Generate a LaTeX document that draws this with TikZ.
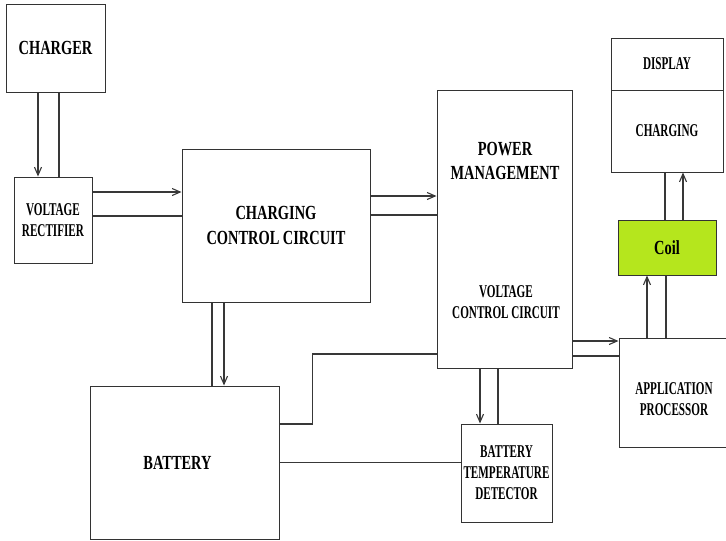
\documentclass[tikz,border=0pt]{standalone}
\usepackage{fontspec}
\newfontfamily\bigfont[FakeStretch=0.72]{Liberation Serif}
\newfontfamily\smallfont[FakeStretch=0.62]{Liberation Serif}
\usetikzlibrary{positioning,arrows.meta}

\begin{document}
\begin{tikzpicture}[
  x=1pt, y=-1pt,
  box/.style={rectangle, draw=black!80, line width=1pt, inner sep=0pt},
  big/.style={align=center, font=\bigfont\bfseries\fontsize{20}{24.5}\selectfont},
  small/.style={align=center, font=\smallfont\bfseries\fontsize{18}{21}\selectfont},
  line/.style={draw=black!78, line width=1.1pt},
  arr/.style={line, -{Straight Barb[length=8pt,width=7pt]}}
]
\useasboundingbox (0,0) rectangle (726,541);

% blocks
\node[box, big, minimum width=99pt, minimum height=88pt]    (chg)  at (55.5,48)    {CHARGER};
\node[box, small, minimum width=78pt, minimum height=86pt]  (rect) at (53,220)     {VOLTAGE\\RECTIFIER};
\node[box, big, minimum width=188pt, minimum height=153pt]  (ccc)  at (276,225.5)  {CHARGING\\CONTROL CIRCUIT};
\node[box, minimum width=135pt, minimum height=278pt]       (pm)   at (504.5,229)  {};
\node[big]   (pmtop) at (505,161) {POWER\\MANAGEMENT};
\node[small] (pmbot) at (506,302) {VOLTAGE\\CONTROL CIRCUIT};
\node[box, small, minimum width=112pt, minimum height=52pt] (disp) at (667,64)     {DISPLAY};
\node[box, small, minimum width=112pt, minimum height=82pt] (dchg) at (667,131)    {CHARGING};
\node[box, big, fill={rgb,255:red,181;green,230;blue,29}, minimum width=98pt, minimum height=55pt] (coil) at (667,247.5) {Coil};
\node[box, minimum width=107pt, minimum height=109pt]       (ap)   at (672.5,392.5) {};
\node[small] (aptxt) at (674,399) {APPLICATION\\PROCESSOR};
\node[box, minimum width=189pt, minimum height=153pt]       (bat)  at (184.5,462.5) {};
\node[big]   (battxt) at (177.5,463) {BATTERY};
\node[box, small, minimum width=91pt, minimum height=98pt]  (btd)  at (506.5,473)  {BATTERY\\TEMPERATURE\\DETECTOR};

% connectors
\draw[arr]  ([xshift=-17.5pt]chg.south) -- ([xshift=-17.5pt]chg.south |- rect.north);
\draw[line] ([xshift=3.5pt]chg.south)   -- ([xshift=3.5pt]chg.south |- rect.north);

\draw[arr]  ([yshift=28pt]rect.east) -- ([yshift=28pt]rect.east -| ccc.west);
\draw[line] ([yshift=4pt]rect.east)  -- ([yshift=4pt]rect.east -| ccc.west);

\draw[arr]  ([yshift=29.5pt]ccc.east) -- ([yshift=29.5pt]ccc.east -| pm.west);
\draw[line] ([yshift=10.5pt]ccc.east) -- ([yshift=10.5pt]ccc.east -| pm.west);

\draw[line] ([xshift=-64pt]ccc.south) -- ([xshift=-64pt]ccc.south |- bat.north);
\draw[arr]  ([xshift=-52pt]ccc.south) -- ([xshift=-52pt]ccc.south |- bat.north);

\draw[arr]  ([yshift=-112pt]pm.east) -- ([yshift=-112pt]pm.east -| ap.west);
\draw[line] ([yshift=-127pt]pm.east) -- ([yshift=-127pt]pm.east -| ap.west);

\draw[arr]  ([xshift=-25.5pt]ap.north) -- ([xshift=-25.5pt]ap.north |- coil.south);
\draw[line] ([xshift=-6.5pt]ap.north)  -- ([xshift=-6.5pt]ap.north |- coil.south);

\draw[line] ([xshift=-2pt]coil.north) -- ([xshift=-2pt]coil.north |- dchg.south);
\draw[arr]  ([xshift=16pt]coil.north) -- ([xshift=16pt]coil.north |- dchg.south);

\draw[arr]  ([xshift=-24.5pt]pm.south) -- ([xshift=-24.5pt]pm.south |- btd.north);
\draw[line] ([xshift=-6.5pt]pm.south)  -- ([xshift=-6.5pt]pm.south |- btd.north);

\draw[line] (bat.east) -- (bat.east -| btd.west);
\draw[line] ([yshift=38.5pt]bat.east) -- ++(33,0) |- ([yshift=-125pt]pm.west);
\end{tikzpicture}
\end{document}
